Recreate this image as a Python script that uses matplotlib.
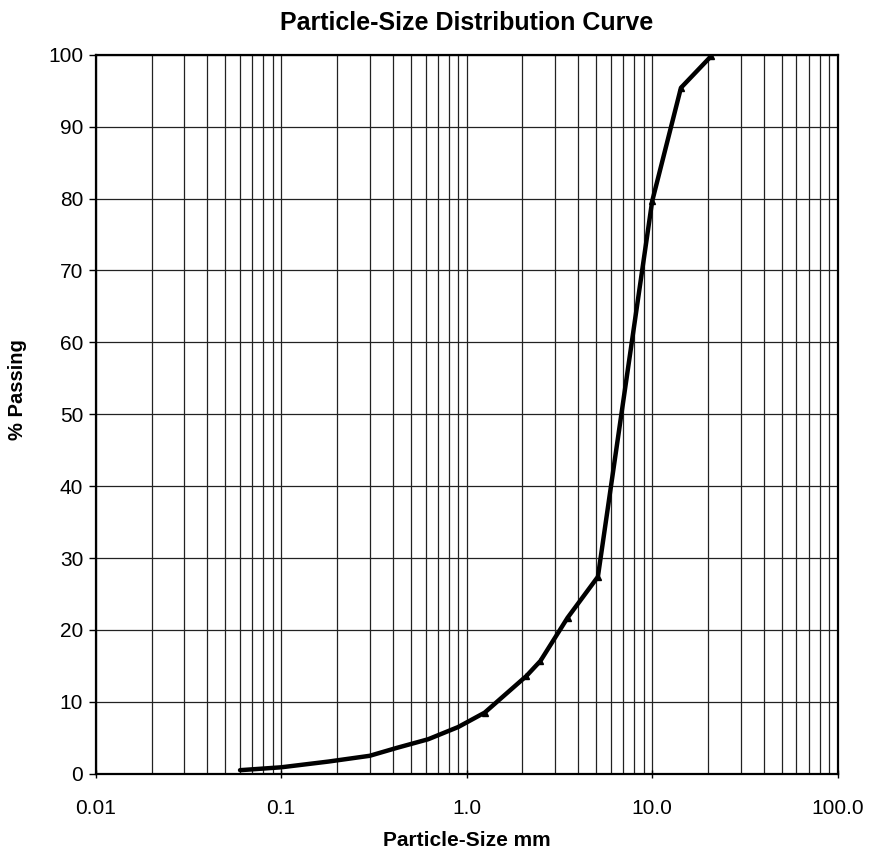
import matplotlib
matplotlib.use("Agg")
import matplotlib.pyplot as plt
from matplotlib.ticker import FixedLocator, FixedFormatter, NullFormatter

plt.rcParams['font.family'] = ['Liberation Sans', 'DejaVu Sans']

size_mm = [0.06, 0.1, 0.18, 0.3, 0.42, 0.62, 0.9, 1.25, 2.1, 2.5, 3.5, 5.1, 10.0, 14.3, 20.8]
passing = [0.5, 0.9, 1.7, 2.5, 3.6, 4.8, 6.5, 8.5, 13.6, 15.7, 21.7, 27.4, 79.6, 95.4, 99.8]
marked = [False, False, False, False, False, False, False, True, True, True, True, True, True, True, True]

x_ticks = [0.01, 0.1, 1.0, 10.0, 100.0]
x_labels = ["0.01", "0.1", "1.0", "10.0", "100.0"]
y_ticks = list(range(0, 101, 10))

fig = plt.figure(figsize=(8.78, 8.55), dpi=100)
ax = fig.add_axes([0.109, 0.095, 0.845, 0.841])

ax.set_xscale('log')
ax.set_xlim(0.01, 100)
ax.set_ylim(0, 100)

ax.plot(size_mm, passing, color='black', lw=3.2, solid_capstyle='round',
        solid_joinstyle='round', zorder=3)
mx = [s for s, m in zip(size_mm, marked) if m]
my = [p for p, m in zip(passing, marked) if m]
ax.plot(mx, my, linestyle='none', marker='^', ms=5, color='black', zorder=4)

ax.xaxis.set_major_locator(FixedLocator(x_ticks))
ax.xaxis.set_major_formatter(FixedFormatter(x_labels))
minor = [m * 10.0 ** d for d in range(-2, 2) for m in range(2, 10)]
ax.xaxis.set_minor_locator(FixedLocator(minor))
ax.xaxis.set_minor_formatter(NullFormatter())
ax.set_yticks(y_ticks)

ax.grid(True, which='both', axis='x', color='#222222', lw=0.9)
ax.grid(True, which='major', axis='y', color='#222222', lw=0.9)

for sp in ax.spines.values():
    sp.set_color('black')
    sp.set_linewidth(1.6)

ax.tick_params(axis='x', which='major', direction='inout', length=6, width=1, labelsize=15, pad=15)
ax.tick_params(axis='x', which='minor', length=0)
ax.tick_params(axis='y', which='major', direction='out', length=5, width=1, labelsize=15, pad=4)

ax.set_title('Particle-Size Distribution Curve', fontsize=18, fontweight='bold', pad=18)
ax.set_xlabel('Particle-Size mm', fontsize=15, fontweight='bold')
ax.xaxis.set_label_coords(0.5, -0.08)
ax.set_ylabel('% Passing', fontsize=14.5, fontweight='bold')
ax.yaxis.set_label_coords(-0.093, 0.534)

fig.savefig('out.png', dpi=100, facecolor='white')
